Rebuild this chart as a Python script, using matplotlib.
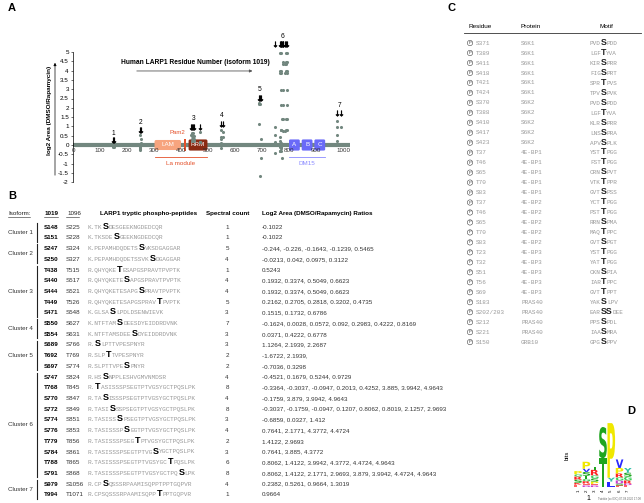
import numpy as np
import matplotlib
matplotlib.use('Agg')
import matplotlib.pyplot as plt
from matplotlib.patches import FancyBboxPatch, Rectangle, PathPatch, FancyArrowPatch
from matplotlib.textpath import TextPath
from matplotlib.font_manager import FontProperties
from matplotlib.transforms import Affine2D

# ---------------- data ----------------
# panel B table (also feeds the dots of panel A)
cluster_names = ['Cluster 1', 'Cluster 2', 'Cluster 3', 'Cluster 4', 'Cluster 5', 'Cluster 6', 'Cluster 7']
cluster_sizes = [2, 2, 5, 2, 3, 10, 2]
sites_1019 = ['S148', 'S151', 'S247', 'S250', 'T438', 'S440', 'S444', 'T449', 'S471', 'S550', 'S554',
              'S689', 'T692', 'S697', 'S747', 'T768', 'S770', 'S772', 'S774', 'S776', 'T779', 'S784',
              'T788', 'S791', 'S979', 'T994']
sites_1096 = ['S225', 'S228', 'S324', 'S327', 'T515', 'S517', 'S521', 'T526', 'S548', 'S627', 'S631',
              'S766', 'T769', 'S774', 'S824', 'T845', 'S847', 'S849', 'S851', 'S853', 'T856', 'S861',
              'T865', 'S868', 'S1056', 'T1071']
peptides = ['K.TKSDESGEEKNGDEDCQR', 'K.TKSDESGEEKNGDEDCQR', 'K.PEPAMHDQDETSSVKSDGAGGAR',
            'K.PEPAMHDQDETSSVKSDGAGGAR', 'R.QHYQKETESAPGSPRAVTPVPTK', 'R.QHYQKETESAPGSPRAVTPVPTK',
            'R.QHYQKETESAPGSPRAVTPVPTK', 'R.QHYQKETESAPGSPRAVTPVPTK', 'K.GLSASLPDLDSENWIEVK',
            'K.NTFTAMSDEESDYEIDDRDVNK', 'K.NTFTAMSDEESDYEIDDRDVNK', 'R.SLPTTVPESPNYR', 'R.SLPTTVPESPNYR',
            'R.SLPTTVPESPNYR', 'R.HSSNPPLESHVGMVNMDSR', 'R.TASISSSPSEGTPTVGSYGCTPQSLPK',
            'R.TASISSSPSEGTPTVGSYGCTPQSLPK', 'R.TASISSSPSEGTPTVGSYGCTPQSLPK',
            'R.TASISSSPSEGTPTVGSYGCTPQSLPK', 'R.TASISSSPSEGTPTVGSYGCTPQSLPK',
            'R.TASISSSPSEGTPTVGSYGCTPQSLPK', 'R.TASISSSPSEGTPTVGSYGCTPQSLPK',
            'R.TASISSSPSEGTPTVGSYGCTPQSLPK', 'R.TASISSSPSEGTPTVGSYGCTPQSLPK',
            'R.CPSQSSSRPAAMISQPPTPPTGQPVR', 'R.CPSQSSSRPAAMISQPPTPPTGQPVR']
phospho_idx = [4, 7, 14, 17, 8, 10, 14, 19, 6, 8, 12, 2, 5, 10, 4, 2, 4, 6, 8, 10, 13, 18, 22, 25, 4, 19]
spectral_counts = [1, 1, 5, 4, 1, 4, 4, 5, 3, 7, 3, 3, 2, 2, 4, 8, 4, 8, 3, 4, 2, 3, 6, 8, 4, 1]
ratios = ['-0.1022', '-0.1022', '-0.244, -0.226, -0.1643, -0.1239, 0.5465', '-0.0213, 0.042, 0.0975, 0.3122',
          '0.5243', '0.1932, 0.3374, 0.5049, 0.6623', '0.1932, 0.3374, 0.5049, 0.6623',
          '0.2162, 0.2705, 0.2818, 0.3202, 0.4735', '0.1515, 0.1732, 0.6786',
          '-0.1624, 0.0028, 0.0572, 0.092, 0.2983, 0.4222, 0.8169', '0.0371, 0.4222, 0.6778',
          '1.1264, 2.1939, 2.2687', '-1.6722, 2.1939,', '-0.7036, 0.3298', '-0.4521, 0.1679, 0.5244, 0.9729',
          '-0.3364, -0.3037, -0.0947, 0.2013, 0.4252, 3.885, 3.9942, 4.9643', '-0.1759, 3.879, 3.9942, 4.9643',
          '-0.3037, -0.1759, -0.0947, 0.1207, 0.8062, 0.8019, 2.1257, 2.9693', '-0.6859, 0.0327, 1.412',
          '0.7641, 2.1771, 4.3772, 4.4724', '1.4122, 2.9693', '0.7641, 3.885, 4.3772',
          '0.8062, 1.4122, 3.9942, 4.3772, 4.4724, 4.9643',
          '0.8062, 1.4122, 2.1771, 2.9693, 3.879, 3.9942, 4.4724, 4.9643',
          '0.2382, 0.5261, 0.9664, 1.3019', '0.9664']

# panel A annotations
site_mark_y = [0.25, 0.8, 0.95, 1.15, 2.55, 5.45, 1.7]
cluster_label_y = [0.62, 1.2, 1.4, 1.6, 3.0, 5.85, 2.15]
x_ticks_a = [0, 100, 200, 300, 400, 500, 600, 700, 800, 900, 1000]
y_ticks_a = np.arange(-2, 5.01, 0.5)

# panel C table
residues_c = ['S371', 'T389', 'S411', 'S418', 'T421', 'T424', 'S370', 'T388', 'S410', 'S417', 'S423',
              'T37', 'T46', 'S65', 'T70', 'S83', 'T37', 'T46', 'S65', 'T70', 'S83',
              'T23', 'T32', 'S51', 'T56', 'S69', 'S183', 'S202/203', 'S212', 'S221', 'S150']
proteins_c = ['S6K1'] * 6 + ['S6K2'] * 5 + ['4E-BP1'] * 5 + ['4E-BP2'] * 5 + ['4E-BP3'] * 5 + ['PRAS40'] * 4 + ['GRB10']
motifs_c = ['PVDSPDD', 'LGFTYVA', 'KIRSPRR', 'FIGSPRT', 'SPRTPVS', 'TPVSPVK', 'PVDSPDD', 'LGFTYVA',
            'KLRSPRR', 'LNSSPRA', 'APVSPLK', 'YSTTPGG', 'FSTTPGG', 'CRNSPVT', 'VTKTPPR', 'GVTSPSS',
            'YCTTPGG', 'PSTTPGG', 'RRNSPMA', 'MAQTPPC', 'GVTSPGT', 'YSTTPGG', 'YATTPGG', 'CKNSPIA',
            'IARTPPC', 'GVTTPPT', 'YAKSLPV', 'EARSSDEE', 'PPSSPDL', 'IAASMRA', 'GPGSPPV']

# panel D logo (letter, bits) bottom to top
logo_cols = [
    [('E', 0.15), ('K', 0.12), ('S', 0.2), ('R', 0.2), ('G', 0.15), ('P', 0.2)],
    [('D', 0.1), ('E', 0.12), ('R', 0.15), ('G', 0.15), ('T', 0.2), ('S', 0.25), ('V', 0.2), ('P', 0.45)],
    [('D', 0.1), ('E', 0.1), ('P', 0.15), ('S', 0.2), ('G', 0.2), ('R', 0.35), ('T', 0.2)],
    [('T', 1.85), ('S', 2.0)],
    [('L', 0.35), ('Y', 0.25), ('P', 3.5)],
    [('E', 0.1), ('S', 0.12), ('D', 0.2), ('G', 0.2), ('R', 0.25), ('P', 0.35), ('V', 0.55)],
    [('E', 0.12), ('D', 0.1), ('R', 0.2), ('G', 0.25), ('S', 0.25), ('Y', 0.3)],
]
aa_colors = {'S': '#1fa51f', 'T': '#1fa51f', 'G': '#3ccf5a', 'Y': '#2fc0a8', 'P': '#f0e800',
             'V': '#2a2aff', 'L': '#2a2aff', 'R': '#ff2222', 'K': '#ff2222', 'D': '#c83cd0', 'E': '#ff6464'}

# ---------------- figure ----------------
W, H = 644, 503
fig = plt.figure(figsize=(W / 100, H / 100), dpi=100)
renderer = fig.canvas.get_renderer()
SANS = 'Liberation Sans'
MONO = 'Liberation Mono'


def fx(x):
    return x / W


def fy(y):
    return 1 - y / H


def ftext(x, y, s, **kw):
    kw.setdefault('family', SANS)
    return fig.text(fx(x), fy(y), s, **kw)


def runs(x, y, parts):
    # draw text pieces one after another on a common baseline
    for s, kw in parts:
        t = ftext(x, y, s, va='baseline', **kw)
        x += t.get_window_extent(renderer).width


for lab, (x, y) in zip('ABCD', [(8, 8), (8, 196), (447, 8), (627, 411)]):
    ftext(x, y, lab, fontsize=8, fontweight='bold', va='center')

# ---------------- panel A ----------------
gray = '#72877f'
px0, px1, pt, pb = 73, 360, 20, 195
sx = 0.27            # px per residue
sy = 18.6            # px per log2 unit
ax = fig.add_axes([fx(px0), fy(pb), (px1 - px0) / W, (pb - pt) / H])
ax.set_xlim(0, (px1 - px0) / sx)
ax.set_ylim(-(pb - 145) / sy, (145 - pt) / sy)
for s in ['top', 'right', 'bottom']:
    ax.spines[s].set_visible(False)
ax.spines['left'].set_bounds(-2, 5)
ax.spines['left'].set_linewidth(0.5)
ax.set_xticks([])
ax.set_yticks(y_ticks_a)
ax.set_yticklabels(['%g' % v for v in y_ticks_a], fontsize=4.5, family=SANS)
ax.tick_params(axis='y', length=1.5, width=0.4, pad=1.5)

ax.plot([0, 1025], [0, 0], color=gray, lw=3, solid_capstyle='butt', zorder=1)
for v in x_ticks_a:
    ax.text(v, -0.15, str(v), fontsize=4.5, family=SANS, ha='center', va='top', color='#333')

# domains (mutation_aspect keeps the corner rounding round on unequal axes)
asp = sx / sy


def box(x0, w, h, fc, r=6):
    ax.add_patch(FancyBboxPatch((x0, -h / 2), w, h, boxstyle='round,pad=0,rounding_size=%g' % r,
                                mutation_aspect=asp, fc=fc, ec='none', zorder=2))


box(302, 98, 0.54, '#f7a47e')
ax.text(351, 0, 'LAM', fontsize=4.5, color='white', ha='center', va='center', family=SANS)
ax.add_patch(Rectangle((410, -0.3), 8, 0.6, fc='#e4502a', ec='none', zorder=2))
ax.text(388, 0.66, 'Pam2', fontsize=4.3, color='#e4502a', ha='center', va='center', family=SANS)
box(428, 70, 0.6, '#8a2a12')
ax.text(463, 0, 'RRM', fontsize=4.5, color='white', ha='center', va='center', family=SANS)
ax.plot([303, 498], [-0.65, -0.65], color='#e4502a', lw=0.6)
ax.text(400, -0.98, 'La module', fontsize=4.5, color='#e4502a', ha='center', va='center', family=SANS)
for lab, x0 in zip('ABC', [800, 847, 894]):
    box(x0, 40, 0.6, '#6a6af8', r=5)
    ax.text(x0 + 20, 0, lab, fontsize=4.5, color='white', ha='center', va='center', family=SANS)
ax.plot([800, 934], [-0.65, -0.65], color='#8a8aff', lw=0.6)
ax.text(867, -0.98, 'DM15', fontsize=4.5, color='#8a8aff', ha='center', va='center', family=SANS)

# title arrow
ax.annotate('', xy=(675, 3.98), xytext=(226, 3.98),
            arrowprops=dict(arrowstyle='-|>', color='#555', lw=0.6, mutation_scale=4))
ax.text(454, 4.42, 'Human LARP1 Residue Number (isoform 1019)', fontsize=4.8, fontweight='bold',
        ha='center', va='center', family=SANS)

# dots and phospho marks
site_res = [int(s[1:]) for s in sites_1019]
start = 0
for ci, n in enumerate(cluster_sizes):
    res = site_res[start:start + n]
    for r, rat in zip(res, ratios[start:start + n]):
        vals = [float(v) for v in rat.split(',') if v.strip()]
        ax.scatter([r] * len(vals), vals, s=5, color=gray, lw=0, zorder=3)
    ax.scatter(res, [site_mark_y[ci]] * n, marker=r'$\downarrow$', s=16, color='black', lw=0.4,
               zorder=4)
    ax.text(np.mean(res), cluster_label_y[ci], str(ci + 1), fontsize=4.8, ha='center', va='center',
            family=SANS)
    start += n

# y label with arrow
ftext(49, 110, 'log2 Area (DMSO/Rapamycin)', fontsize=4.6, fontweight='bold', rotation=90,
      ha='center', va='center')
fig.add_artist(FancyArrowPatch((fx(55), fy(178)), (fx(55), fy(60)), transform=fig.transFigure,
                               arrowstyle='-|>', mutation_scale=4, lw=0.5, color='black'))

# ---------------- panel B ----------------
hy = 213
ftext(8, hy + 2, 'Isoform:', fontsize=4.5, va='baseline', color='#222')
ftext(45, hy + 2, '1019', fontsize=4.5, fontweight='bold', va='baseline')
ftext(67, hy + 2, '1096', fontsize=4.5, va='baseline', color='#222')
for x0, x1 in [(8, 30), (44, 58), (66, 79)]:
    fig.add_artist(plt.Line2D([fx(x0), fx(x1)], [fy(hy + 3.5)] * 2, lw=0.4, color='#222'))
ftext(100, hy + 2, 'LARP1 tryptic phospho-peptides', fontsize=4.5, fontweight='bold', va='baseline')
ftext(206, hy + 2, 'Spectral count', fontsize=4.5, fontweight='bold', va='baseline')
ftext(262, hy + 2, 'Log2 Area (DMSO/Rapamycin) Ratios', fontsize=4.5, fontweight='bold', va='baseline')

row0, dy = 227, 10.7
for i in range(len(sites_1019)):
    y = row0 + i * dy + 1.8
    ftext(44, y, sites_1019[i], fontsize=4.5, fontweight='bold', va='baseline')
    ftext(66, y, sites_1096[i], fontsize=4.5, va='baseline', color='#333')
    p, k = peptides[i], phospho_idx[i]
    runs(88, y, [(p[:k], dict(fontsize=4.4, family=MONO, color='#9a9a9a')),
                 (p[k], dict(fontsize=6.5, family=SANS, fontweight='bold', color='black')),
                 (p[k + 1:], dict(fontsize=4.4, family=MONO, color='#9a9a9a'))])
    ftext(227, y, str(spectral_counts[i]), fontsize=4.5, va='baseline', ha='center', color='#333')
    ftext(262, y, ratios[i], fontsize=4.5, va='baseline', color='#333')

start = 0
for name, n in zip(cluster_names, cluster_sizes):
    ya = row0 + start * dy - 4
    yb = row0 + (start + n - 1) * dy + 4
    fig.add_artist(plt.Line2D([fx(37)] * 2, [fy(ya), fy(yb)], lw=0.8, color='#222'))
    ftext(8, (ya + yb) / 2, name, fontsize=4.5, va='center', color='#333')
    start += n

# ---------------- panel C ----------------
ftext(480, 27, 'Residue', fontsize=4.6, ha='center', va='center')
ftext(531, 27, 'Protein', fontsize=4.6, ha='center', va='center')
ftext(606, 27, 'Motif', fontsize=4.6, ha='center', va='center')
fig.add_artist(plt.Line2D([fx(464), fx(641)], [fy(33)] * 2, lw=0.6, color='#333'))
for i, (r, p, m) in enumerate(zip(residues_c, proteins_c, motifs_c)):
    y = 43 + i * 9.97
    ftext(470, y, 'P', fontsize=3.2, ha='center', va='center', color='#444',
          bbox=dict(boxstyle='circle,pad=0.15', fc='white', ec='#444', lw=0.4))
    ftext(476, y + 1.6, r, fontsize=4.3, family=MONO, va='baseline', color='#9a9a9a')
    ftext(521, y + 1.6, p, fontsize=4.3, family=MONO, va='baseline', color='#9a9a9a')
    nb = 2 if '/' in r else 1
    runs(590, y + 1.8, [(m[:3], dict(fontsize=4.3, family=MONO, color='#9a9a9a')),
                        (m[3:3 + nb], dict(fontsize=6.3, family=SANS, fontweight='bold', color='#222')),
                        (m[3 + nb:], dict(fontsize=4.3, family=MONO, color='#9a9a9a'))])

# ---------------- panel D ----------------
axd = fig.add_axes([fx(574), fy(487), (632 - 574) / W, (487 - 420) / H])
axd.set_xlim(0.5, 7.5)
axd.set_ylim(0, 4.3)
axd.axis('off')
fp_logo = FontProperties(family='DejaVu Sans', weight='bold')
for pos, col in enumerate(logo_cols, start=1):
    y0 = 0
    for ch, h in col:
        tp = TextPath((0, 0), ch, size=1, prop=fp_logo)
        bb = tp.get_extents()
        tr = Affine2D().translate(-bb.x0, -bb.y0).scale(0.92 / bb.width, h / bb.height)
        tr = tr.translate(pos - 0.46, y0)
        axd.add_patch(PathPatch(tr.transform_path(tp), fc=aa_colors[ch], ec='none'))
        y0 += h
    axd.text(pos, -0.15, str(pos), fontsize=3.2, rotation=90, ha='center', va='top', family=SANS)
ftext(567, 455, 'bits', fontsize=4.3, rotation=90, ha='center', va='center')
ftext(588, 498, '1', fontsize=5, ha='center', va='center')
ftext(641, 499, 'Twinkie (xx 03C) 07.08.2020 17:08', fontsize=2.0, ha='right', va='center', color='#666')

fig.savefig('out.png', dpi=100)
